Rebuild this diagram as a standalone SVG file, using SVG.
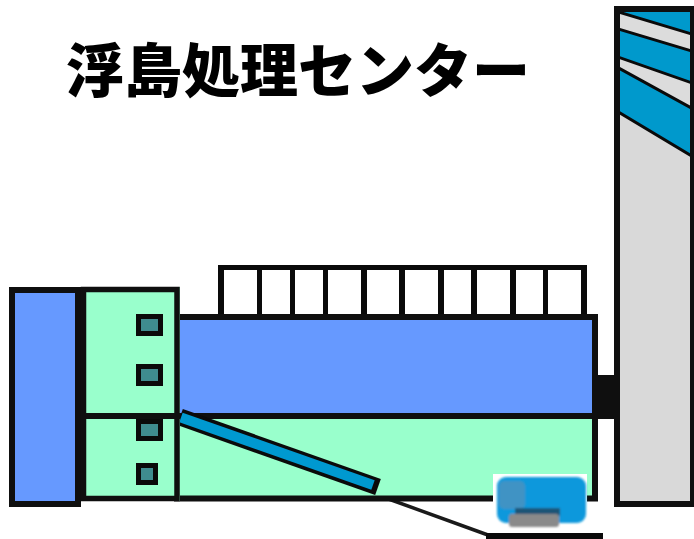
<svg xmlns="http://www.w3.org/2000/svg" width="694" height="539" viewBox="0 0 694 539">
  <style>
    .edge { stroke: #0f0f0f; stroke-width: 6; }
    .blue { fill: #6699ff; }
    .green { fill: #99ffcc; }
    .win { fill: #3f8c8f; stroke: #0a0a0a; stroke-width: 5; }
    .post { fill: #0a0a0a; }
    .title { font-family: "Noto Sans CJK JP", "Noto Sans", sans-serif; font-weight: 900; font-size: 58px; fill: #000; }
  </style>
  <defs>
    <clipPath id="towerInner">
      <rect x="620" y="12" width="70" height="489"/>
    </clipPath>
    <filter id="soft" x="-10%" y="-10%" width="120%" height="120%">
      <feGaussianBlur stdDeviation="1.3"/>
    </filter>
  </defs>

  <rect width="694" height="539" fill="#ffffff"/>

  <!-- title -->
  <text class="title" x="66" y="92">浮島処理センター</text>

  <!-- ground line under the vehicle -->
  <g id="ground">
    <line x1="372" y1="493" x2="488" y2="535" stroke="#1a1a1a" stroke-width="3.5"/>
    <rect x="486" y="533" width="117" height="6" fill="#0a0a0a"/>
  </g>

  <!-- roof railing -->
  <g id="railing">
    <rect class="post" x="218" y="265" width="369" height="5"/>
    <rect class="post" x="218" y="265" width="6" height="52"/>
    <rect class="post" x="257" y="265" width="5" height="52"/>
    <rect class="post" x="290" y="265" width="5" height="52"/>
    <rect class="post" x="323" y="265" width="5" height="52"/>
    <rect class="post" x="361" y="265" width="6" height="52"/>
    <rect class="post" x="399" y="265" width="6" height="52"/>
    <rect class="post" x="438" y="265" width="6" height="52"/>
    <rect class="post" x="471" y="265" width="6" height="52"/>
    <rect class="post" x="510" y="265" width="6" height="52"/>
    <rect class="post" x="543" y="265" width="5" height="52"/>
    <rect class="post" x="581" y="265" width="6" height="52"/>
  </g>

  <!-- main hall -->
  <g id="main-hall">
    <rect class="green edge" x="177" y="317" width="418" height="181.5"/>
    <rect class="blue" x="180" y="320" width="412" height="93"/>
    <line class="edge" x1="177" y1="416" x2="595" y2="416"/>
  </g>

  <!-- sloped conveyor pipe -->
  <g id="pipe">
    <line x1="180" y1="417" x2="378" y2="487" stroke="#0a0a0a" stroke-width="17"/>
    <line x1="181" y1="417.5" x2="373" y2="485" stroke="#0099d0" stroke-width="10"/>
  </g>

  <!-- left stair block -->
  <g id="left-block">
    <rect class="blue edge" x="12" y="290" width="66" height="214"/>
  </g>

  <!-- entrance block with windows -->
  <g id="entrance">
    <rect class="green" x="81" y="287" width="99" height="214"/>
    <rect x="83.5" y="289.5" width="93.5" height="209" fill="none" stroke="#0f0f0f" stroke-width="5.5"/>
    <line class="edge" x1="81" y1="416" x2="180" y2="416"/>
    <rect class="win" x="138.5" y="316.5" width="22" height="17"/>
    <rect class="win" x="138.5" y="366.5" width="22" height="17"/>
    <rect class="win" x="138.5" y="421.5" width="22" height="17"/>
    <rect class="win" x="138.5" y="465.5" width="17" height="17"/>
  </g>

  <!-- link between hall and chimney -->
  <g id="link">
    <rect x="597" y="375" width="18" height="44" fill="#0f0f0f"/>
  </g>

  <!-- chimney -->
  <g id="chimney">
    <rect x="617" y="9" width="76" height="495" fill="#d9d9d9"/>
    <g clip-path="url(#towerInner)">
      <polygon points="615,10 695,10 695,158 615,110" fill="#0099cc" stroke="#0a0a0a" stroke-width="3"/>
      <polygon points="615,11 695,35 695,52 615,28" fill="#dcdcdc" stroke="#0a0a0a" stroke-width="3"/>
      <polygon points="615,56 695,84 695,110 615,66" fill="#dcdcdc" stroke="#0a0a0a" stroke-width="3"/>
    </g>
    <rect class="edge" x="617" y="9" width="76" height="495" fill="none"/>
  </g>

  <!-- collection vehicle -->
  <g id="vehicle">
    <rect x="493" y="474" width="94" height="54" fill="#ffffff"/>
    <g filter="url(#soft)">
      <rect x="497" y="477" width="89" height="46" rx="9" fill="#0a98dc"/>
      <rect x="499" y="481" width="26" height="28" rx="5" fill="#3f93c4"/>
      <rect x="515" y="508" width="45" height="8" fill="#1d5577"/>
      <rect x="509" y="514" width="50" height="13" rx="3" fill="#8a8a8a"/>
    </g>
  </g>
</svg>
